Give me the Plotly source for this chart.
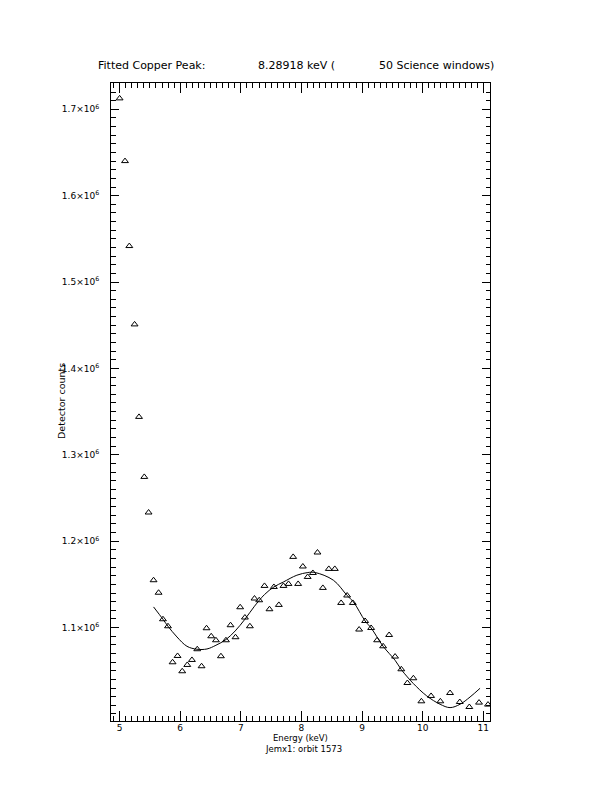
import plotly.graph_objects as go

# Observed spectrum points (energy in keV, detector counts)
energy_obs = [5.000, 5.089, 5.160, 5.247, 5.320, 5.407, 5.478, 5.560, 5.643, 5.715,
              5.798, 5.874, 5.956, 6.033, 6.116, 6.193, 6.281, 6.352, 6.434, 6.511,
              6.589, 6.671, 6.754, 6.830, 6.912, 6.989, 7.067, 7.149, 7.225, 7.303,
              7.390, 7.472, 7.545, 7.627, 7.703, 7.786, 7.863, 7.945, 8.023, 8.102,
              8.188, 8.264, 8.353, 8.451, 8.550, 8.654, 8.753, 8.847, 8.951, 9.050,
              9.149, 9.248, 9.347, 9.446, 9.544, 9.647, 9.747, 9.846, 9.978, 10.138,
              10.291, 10.451, 10.611, 10.769, 10.929, 11.077]
counts_obs = [1712700, 1640100, 1541700, 1451000, 1343900, 1274400, 1233200, 1154800, 1140300, 1109600,
              1101500, 1059800, 1067100, 1049400, 1056700, 1062500, 1074900, 1055200, 1099200, 1089900,
              1085300, 1066800, 1085300, 1102700, 1088800, 1123500, 1111600, 1101500, 1133600, 1131600,
              1148200, 1121200, 1147000, 1126200, 1148200, 1150500, 1181800, 1150500, 1170700, 1158600,
              1163200, 1186900, 1145900, 1167900, 1167900, 1128500, 1137100, 1128500, 1097700, 1107600,
              1099500, 1085300, 1078300, 1091400, 1066400, 1051700, 1035800, 1041300, 1014600, 1020800,
              1014600, 1024200, 1013800, 1008000, 1013100, 1010800]

# Fitted model curve
fit_energy = [5.560, 5.715, 5.798, 5.946, 6.111, 6.276, 6.441, 6.589, 6.754, 6.907,
              7.067, 7.225, 7.390, 7.545, 7.703, 7.924, 8.105, 8.226, 8.527, 8.753,
              8.857, 9.050, 9.149, 9.347, 9.544, 9.643, 9.747, 9.846, 10.067, 10.286,
              10.451, 10.616, 10.781, 10.946]
fit_counts = [1123900, 1109600, 1101500, 1089100, 1078300, 1074900, 1075200, 1079500, 1086100, 1096100,
              1109600, 1124700, 1138200, 1147000, 1152800, 1160600, 1163700, 1163700, 1154800, 1137100,
              1129700, 1107600, 1099500, 1078300, 1062100, 1051700, 1042800, 1035100, 1020800, 1011200,
              1007300, 1011200, 1019600, 1029700]

y_tick_vals = [1.1e6, 1.2e6, 1.3e6, 1.4e6, 1.5e6, 1.6e6, 1.7e6]
y_tick_text = ["1.1×10<sup>6</sup>", "1.2×10<sup>6</sup>", "1.3×10<sup>6</sup>", "1.4×10<sup>6</sup>",
               "1.5×10<sup>6</sup>", "1.6×10<sup>6</sup>", "1.7×10<sup>6</sup>"]
x_tick_vals = [5, 6, 7, 8, 9, 10, 11]
x_tick_text = ["5", "6", "7", "8", "9", "10", "11"]

FONT = "DejaVu Sans"

fig = go.Figure()
fig.add_trace(go.Scatter(
    x=fit_energy, y=fit_counts, mode="lines",
    line=dict(color="black", width=1, shape="spline", smoothing=1.0),
    hoverinfo="skip", showlegend=False))
fig.add_trace(go.Scatter(
    x=energy_obs, y=counts_obs, mode="markers",
    marker=dict(symbol="triangle-up-open", size=6, color="black", line=dict(width=1, color="black")),
    showlegend=False, cliponaxis=True))

# page offset of the plotly div inside the browser body
OFF = 8
L, R, T, B = 111 - OFF, 490 - OFF, 83 - OFF, 721 - OFF
W, H = 612, 792

def px(xp):
    return (xp - OFF - L) / (R - L)

def py(yp):
    return (B - (yp - OFF)) / (B - T)

fig.update_layout(
    width=W, height=H,
    margin=dict(l=L, r=W - R, t=T, b=H - B, autoexpand=False),
    paper_bgcolor="white", plot_bgcolor="white",
    font=dict(family=FONT, color="black", size=9),
    xaxis=dict(range=[4.858, 11.11], showline=True, linecolor="black", linewidth=1,
               mirror="ticks", ticks="inside", ticklen=10, tickwidth=1, tickcolor="black",
               tickvals=x_tick_vals, ticktext=x_tick_text, showgrid=False, zeroline=False,
               tickfont=dict(size=9, family=FONT), ticklabelstandoff=-2,
               minor=dict(tick0=5, dtick=0.1, ticks="inside", ticklen=5, tickcolor="black",
                          tickwidth=1, showgrid=False)),
    yaxis=dict(range=[991800, 1730500], showline=True, linecolor="black", linewidth=1,
               mirror="ticks", ticks="inside", ticklen=8, tickwidth=1, tickcolor="black",
               tickvals=y_tick_vals, ticktext=y_tick_text, showgrid=False, zeroline=False,
               tickfont=dict(size=9, family=FONT), ticklabelstandoff=9,
               minor=dict(tick0=1.0e6, dtick=10000, ticks="inside", ticklen=4.5,
                          tickcolor="black", tickwidth=1, showgrid=False)),
)

ann = [
    dict(text="Fitted Copper Peak:", x=px(96), y=py(66), xanchor="left", yanchor="middle", font=dict(size=11)),
    dict(text="8.28918 keV (", x=px(256), y=py(66), xanchor="left", yanchor="middle", font=dict(size=11)),
    dict(text="50 Science windows)", x=px(377), y=py(66), xanchor="left", yanchor="middle", font=dict(size=11)),
    dict(text="Energy (keV)", x=px(300), y=py(738), xanchor="center", yanchor="middle", font=dict(size=8.5)),
    dict(text="Jemx1: orbit 1573", x=px(303), y=py(748.5), xanchor="center", yanchor="middle", font=dict(size=8.5)),
    dict(text="Detector counts", x=px(61), y=py(401), xanchor="center", yanchor="middle",
         textangle=-90, font=dict(size=9.5)),
]
for a in ann:
    a.update(xref="paper", yref="paper", showarrow=False)
    fig.add_annotation(**a)

fig.write_html("out.html")
